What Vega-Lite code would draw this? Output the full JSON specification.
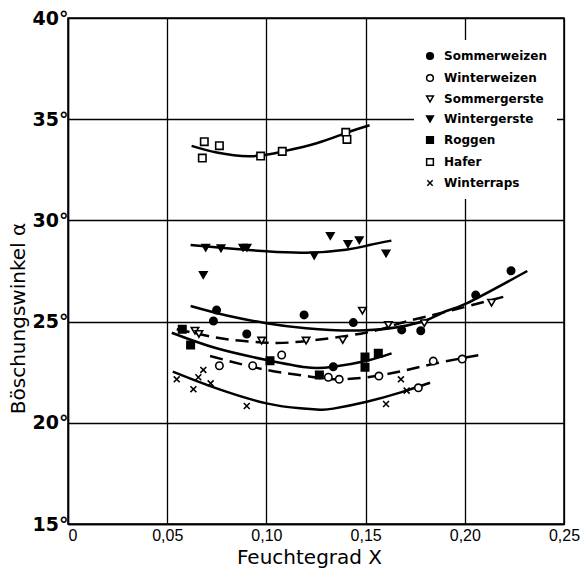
{
  "$schema": "https://vega.github.io/schema/vega-lite/v6.json",
  "width": 496,
  "height": 506,
  "autosize": "none",
  "padding": {"left": 68, "top": 18, "right": 19, "bottom": 53},
  "background": "white",
  "config": {
    "font": "Liberation Sans",
    "view": {"stroke": "black", "strokeWidth": 1.5},
    "axis": {"gridColor": "black", "gridOpacity": 1, "gridWidth": 1.3, "domainColor": "black", "domainWidth": 1.5, "ticks": false, "labelColor": "black", "titleColor": "black"}
  },
  "datasets": {
    "points": [
      {"series": "Sommerweizen", "x": 0.0749, "y": 25.57},
      {"series": "Sommerweizen", "x": 0.0733, "y": 25.03},
      {"series": "Sommerweizen", "x": 0.0901, "y": 24.39},
      {"series": "Sommerweizen", "x": 0.119, "y": 25.33},
      {"series": "Sommerweizen", "x": 0.1438, "y": 24.95},
      {"series": "Sommerweizen", "x": 0.1682, "y": 24.59},
      {"series": "Sommerweizen", "x": 0.1778, "y": 24.55},
      {"series": "Sommerweizen", "x": 0.2055, "y": 26.31},
      {"series": "Sommerweizen", "x": 0.2233, "y": 27.51},
      {"series": "Sommerweizen", "x": 0.1337, "y": 22.77},
      {"series": "Winterweizen", "x": 0.0763, "y": 22.82},
      {"series": "Winterweizen", "x": 0.0931, "y": 22.82},
      {"series": "Winterweizen", "x": 0.1077, "y": 23.35},
      {"series": "Winterweizen", "x": 0.1312, "y": 22.25},
      {"series": "Winterweizen", "x": 0.1367, "y": 22.15},
      {"series": "Winterweizen", "x": 0.1567, "y": 22.31},
      {"series": "Winterweizen", "x": 0.1766, "y": 21.73},
      {"series": "Winterweizen", "x": 0.1841, "y": 23.05},
      {"series": "Winterweizen", "x": 0.1987, "y": 23.15},
      {"series": "Sommergerste", "x": 0.064, "y": 24.55},
      {"series": "Sommergerste", "x": 0.066, "y": 24.39},
      {"series": "Sommergerste", "x": 0.0976, "y": 24.06},
      {"series": "Sommergerste", "x": 0.12, "y": 24.06},
      {"series": "Sommergerste", "x": 0.1385, "y": 24.09},
      {"series": "Sommergerste", "x": 0.1484, "y": 25.54},
      {"series": "Sommergerste", "x": 0.1615, "y": 24.83},
      {"series": "Sommergerste", "x": 0.1796, "y": 24.92},
      {"series": "Sommergerste", "x": 0.2135, "y": 25.93},
      {"series": "Wintergerste", "x": 0.0694, "y": 28.65},
      {"series": "Wintergerste", "x": 0.0771, "y": 28.62},
      {"series": "Wintergerste", "x": 0.0882, "y": 28.65},
      {"series": "Wintergerste", "x": 0.0902, "y": 28.65},
      {"series": "Wintergerste", "x": 0.1241, "y": 28.26},
      {"series": "Wintergerste", "x": 0.1322, "y": 29.23},
      {"series": "Wintergerste", "x": 0.1411, "y": 28.83},
      {"series": "Wintergerste", "x": 0.1468, "y": 29.02},
      {"series": "Wintergerste", "x": 0.1603, "y": 28.37},
      {"series": "Wintergerste", "x": 0.0682, "y": 27.3},
      {"series": "Roggen", "x": 0.0576, "y": 24.62},
      {"series": "Roggen", "x": 0.0618, "y": 23.84},
      {"series": "Roggen", "x": 0.1018, "y": 23.07},
      {"series": "Roggen", "x": 0.1267, "y": 22.36},
      {"series": "Roggen", "x": 0.1497, "y": 23.25},
      {"series": "Roggen", "x": 0.1497, "y": 22.75},
      {"series": "Roggen", "x": 0.1564, "y": 23.43},
      {"series": "Hafer", "x": 0.0687, "y": 33.89},
      {"series": "Hafer", "x": 0.0763, "y": 33.69},
      {"series": "Hafer", "x": 0.0677, "y": 33.08},
      {"series": "Hafer", "x": 0.0971, "y": 33.18},
      {"series": "Hafer", "x": 0.108, "y": 33.41},
      {"series": "Hafer", "x": 0.14, "y": 34.35},
      {"series": "Hafer", "x": 0.1406, "y": 34.0},
      {"series": "Winterraps", "x": 0.0548, "y": 22.15},
      {"series": "Winterraps", "x": 0.0632, "y": 21.66},
      {"series": "Winterraps", "x": 0.0657, "y": 22.25},
      {"series": "Winterraps", "x": 0.0682, "y": 22.61},
      {"series": "Winterraps", "x": 0.0719, "y": 21.95},
      {"series": "Winterraps", "x": 0.0901, "y": 20.83},
      {"series": "Winterraps", "x": 0.1678, "y": 22.15},
      {"series": "Winterraps", "x": 0.1603, "y": 20.93},
      {"series": "Winterraps", "x": 0.1707, "y": 21.59}
    ],
    "curves": [
      {"series": "Hafer", "x": 0.0623, "y": 33.68},
      {"series": "Hafer", "x": 0.075, "y": 33.35},
      {"series": "Hafer", "x": 0.092, "y": 33.17},
      {"series": "Hafer", "x": 0.108, "y": 33.4},
      {"series": "Hafer", "x": 0.1253, "y": 33.81},
      {"series": "Hafer", "x": 0.1405, "y": 34.33},
      {"series": "Hafer", "x": 0.152, "y": 34.7},
      {"series": "Wintergerste", "x": 0.0618, "y": 28.78},
      {"series": "Wintergerste", "x": 0.08, "y": 28.62},
      {"series": "Wintergerste", "x": 0.1, "y": 28.47},
      {"series": "Wintergerste", "x": 0.12, "y": 28.4},
      {"series": "Wintergerste", "x": 0.14, "y": 28.55},
      {"series": "Wintergerste", "x": 0.152, "y": 28.78},
      {"series": "Wintergerste", "x": 0.163, "y": 29.0},
      {"series": "Sommerweizen", "x": 0.0618, "y": 25.77},
      {"series": "Sommerweizen", "x": 0.08, "y": 25.3},
      {"series": "Sommerweizen", "x": 0.1, "y": 24.92},
      {"series": "Sommerweizen", "x": 0.12, "y": 24.67},
      {"series": "Sommerweizen", "x": 0.15, "y": 24.57},
      {"series": "Sommerweizen", "x": 0.1774, "y": 24.97},
      {"series": "Sommerweizen", "x": 0.19, "y": 25.5},
      {"series": "Sommerweizen", "x": 0.2009, "y": 25.9},
      {"series": "Sommerweizen", "x": 0.2315, "y": 27.5},
      {"series": "Sommergerste", "x": 0.0548, "y": 24.62},
      {"series": "Sommergerste", "x": 0.07, "y": 24.3},
      {"series": "Sommergerste", "x": 0.0833, "y": 24.09},
      {"series": "Sommergerste", "x": 0.1, "y": 23.96},
      {"series": "Sommergerste", "x": 0.117, "y": 24.01},
      {"series": "Sommergerste", "x": 0.15, "y": 24.45},
      {"series": "Sommergerste", "x": 0.1673, "y": 24.92},
      {"series": "Sommergerste", "x": 0.1875, "y": 25.41},
      {"series": "Sommergerste", "x": 0.2228, "y": 26.31},
      {"series": "Roggen", "x": 0.0523, "y": 24.45},
      {"series": "Roggen", "x": 0.0749, "y": 23.68},
      {"series": "Roggen", "x": 0.1001, "y": 23.1},
      {"series": "Roggen", "x": 0.12, "y": 22.74},
      {"series": "Roggen", "x": 0.1337, "y": 22.77},
      {"series": "Roggen", "x": 0.1506, "y": 23.07},
      {"series": "Roggen", "x": 0.1631, "y": 23.43},
      {"series": "Winterweizen", "x": 0.0716, "y": 23.3},
      {"series": "Winterweizen", "x": 0.1001, "y": 22.61},
      {"series": "Winterweizen", "x": 0.1203, "y": 22.31},
      {"series": "Winterweizen", "x": 0.1337, "y": 22.15},
      {"series": "Winterweizen", "x": 0.1506, "y": 22.25},
      {"series": "Winterweizen", "x": 0.1673, "y": 22.53},
      {"series": "Winterweizen", "x": 0.1841, "y": 22.91},
      {"series": "Winterweizen", "x": 0.209, "y": 23.38},
      {"series": "Winterraps", "x": 0.0528, "y": 22.53},
      {"series": "Winterraps", "x": 0.0749, "y": 21.7},
      {"series": "Winterraps", "x": 0.1001, "y": 20.96},
      {"series": "Winterraps", "x": 0.117, "y": 20.72},
      {"series": "Winterraps", "x": 0.127, "y": 20.65},
      {"series": "Winterraps", "x": 0.1337, "y": 20.7},
      {"series": "Winterraps", "x": 0.1506, "y": 21.04},
      {"series": "Winterraps", "x": 0.1673, "y": 21.49},
      {"series": "Winterraps", "x": 0.1825, "y": 21.98}
    ]
  },
  "encoding": {
    "x": {
      "field": "x", "type": "quantitative",
      "scale": {"domain": [0, 0.25], "nice": false, "zero": false},
      "axis": {
        "values": [0, 0.05, 0.1, 0.15, 0.2, 0.25],
        "labelExpr": "datum.value == 0 ? '0' : replace(format(datum.value, '.2f'), '.', ',')",
        "labelAlign": {"condition": {"test": "datum.value == 0", "value": "left"}, "value": "center"},
        "labelFontSize": 16, "labelPadding": 3, "labelFlush": false,
        "title": "Feuchtegrad  X", "titleFont": "DejaVu Sans", "titleFontSize": 20, "titleFontWeight": "normal", "titlePadding": 4, "titleX": 241
      }
    },
    "y": {
      "field": "y", "type": "quantitative",
      "scale": {"domain": [15, 40], "nice": false, "zero": false},
      "axis": {
        "values": [15, 20, 25, 30, 35, 40],
        "labelExpr": "datum.value + '°'",
        "labelFont": "DejaVu Sans", "labelFontSize": 19, "labelFontWeight": "bold", "labelPadding": 0, "labelFlush": false,
        "title": "Böschungswinkel  α", "titleFont": "DejaVu Sans", "titleFontSize": 20, "titleFontWeight": "normal",
        "titleX": -50, "titleY": 300, "titleAngle": -90, "titleAlign": "center", "titleBaseline": "middle"
      }
    }
  },
  "layer": [
    {
      "data": {"name": "curves"},
      "transform": [{"filter": {"field": "series", "oneOf": ["Sommerweizen", "Wintergerste", "Roggen", "Hafer", "Winterraps"]}}],
      "mark": {"type": "line", "interpolate": "natural", "color": "black", "strokeWidth": 2.5},
      "encoding": {"detail": {"field": "series"}}
    },
    {
      "data": {"name": "curves"},
      "transform": [{"filter": {"field": "series", "oneOf": ["Winterweizen", "Sommergerste"]}}],
      "mark": {"type": "line", "interpolate": "natural", "color": "black", "strokeWidth": 2.5, "strokeDash": [13, 7]},
      "encoding": {"detail": {"field": "series"}}
    },
    {
      "data": {"name": "points"},
      "mark": {"type": "point", "filled": true, "stroke": "black", "strokeWidth": 1.6, "size": 55, "opacity": 1},
      "encoding": {
        "shape": {
          "field": "series", "type": "nominal",
          "scale": {
            "domain": ["Sommerweizen", "Winterweizen", "Sommergerste", "Wintergerste", "Roggen", "Hafer", "Winterraps"],
            "range": ["circle", "circle", "triangle-down", "triangle-down", "square", "square", "M-0.8,-0.8L0.8,0.8M-0.8,0.8L0.8,-0.8"]
          },
          "legend": {
            "title": null, "orient": "none", "legendX": 346, "legendY": 22,
            "fillColor": "white", "padding": 10, "labelFont": "DejaVu Sans", "labelFontSize": 12, "labelFontWeight": "bold",
            "labelColor": "black", "labelOffset": 8, "rowPadding": 8, "symbolSize": 45,
            "encode": {"symbols": {"update": {"stroke": {"value": "black"}, "strokeWidth": {"value": 1.6}, "opacity": {"value": 1}}}}
          }
        },
        "fill": {
          "field": "series", "type": "nominal",
          "scale": {
            "domain": ["Sommerweizen", "Winterweizen", "Sommergerste", "Wintergerste", "Roggen", "Hafer", "Winterraps"],
            "range": ["black", "white", "white", "black", "black", "white", "black"]
          },
          "legend": {
            "title": null, "orient": "none", "legendX": 346, "legendY": 22,
            "fillColor": "white", "padding": 10, "labelFont": "DejaVu Sans", "labelFontSize": 12, "labelFontWeight": "bold",
            "labelColor": "black", "labelOffset": 8, "rowPadding": 8, "symbolSize": 45,
            "encode": {"symbols": {"update": {"stroke": {"value": "black"}, "strokeWidth": {"value": 1.6}, "opacity": {"value": 1}}}}
          }
        }
      }
    }
  ]
}
